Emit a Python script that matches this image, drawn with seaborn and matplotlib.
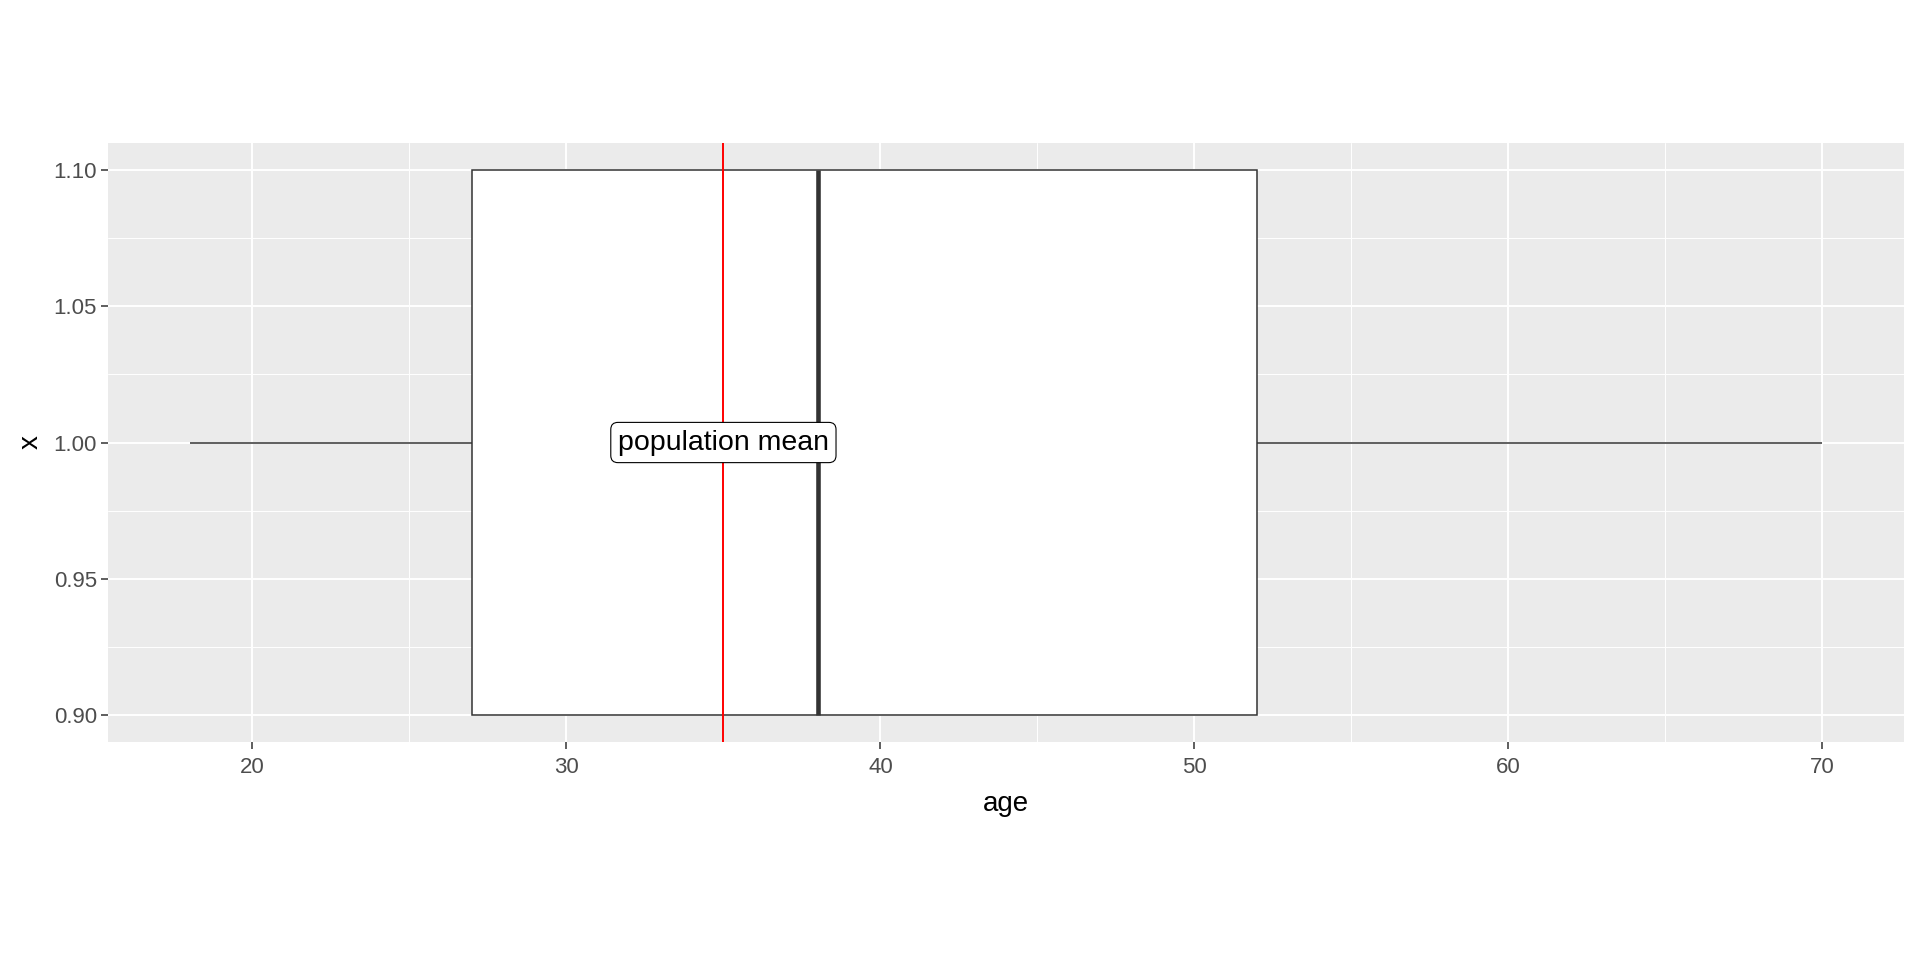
import numpy as np
import pandas as pd
import matplotlib.pyplot as plt
import seaborn as sns

# ages chosen so the box stats match: min 18, Q1 27, median 38, Q3 52, max 70
ages = [18, 27, 38, 52, 70]
group = [1.0] * len(ages)
pop_mean = 35
label = "population mean"

x_ticks = [20, 30, 40, 50, 60, 70]
y_ticks = [0.90, 0.95, 1.00, 1.05, 1.10]

df = pd.DataFrame({"age": ages, "x": group})

sns.set_style("white")
plt.rcParams["font.family"] = ["Liberation Sans", "DejaVu Sans"]

fig = plt.figure(figsize=(19.2, 9.6), dpi=100)
ax = fig.add_axes([0.05625, 0.2271, 0.9354, 0.6239])
ax.set_facecolor("#EBEBEB")

# grid, ggplot style
for v in np.arange(15, 75, 5):
    major = v % 10 == 0
    ax.axvline(v, color="white", lw=1.4 if major else 0.7, zorder=0)
for v in np.arange(0.875, 1.125, 0.025):
    major = abs(round(v / 0.05) * 0.05 - v) < 1e-9
    ax.axhline(v, color="white", lw=1.4 if major else 0.7, zorder=0)

sns.boxplot(data=df, x="age", y="x", orient="h", native_scale=True, width=0.2,
            whis=1.5, showcaps=False, showfliers=False,
            color="white", linecolor="#333333", linewidth=1.1, saturation=1,
            medianprops=dict(color="#333333", linewidth=3.3),
            ax=ax)

ax.axvline(pop_mean, color="#FF0000", lw=1.4, zorder=4)
ax.text(pop_mean, 1.0, label, ha="center", va="center", fontsize=20.5, color="black", zorder=5,
        bbox=dict(boxstyle="round,pad=0.25,rounding_size=0.25", facecolor="white",
                  edgecolor="black", linewidth=0.8))

ax.set_xlim(15.4, 72.6)
ax.set_ylim(0.89, 1.11)
ax.set_xticks(x_ticks)
ax.set_yticks(y_ticks)
ax.set_yticklabels([f"{v:.2f}" for v in y_ticks])
ax.tick_params(axis="both", labelsize=16, labelcolor="#4D4D4D", color="#333333",
               length=5, width=1.1, pad=3, direction="out", bottom=True, left=True)
ax.tick_params(axis="x", pad=6)
ax.set_xlabel("age", fontsize=20, color="black", labelpad=9)
ax.set_ylabel("x", fontsize=20, color="black", labelpad=7)
for s in ax.spines.values():
    s.set_visible(False)
ax.grid(False)

fig.savefig("out.png", dpi=100, facecolor="white")
